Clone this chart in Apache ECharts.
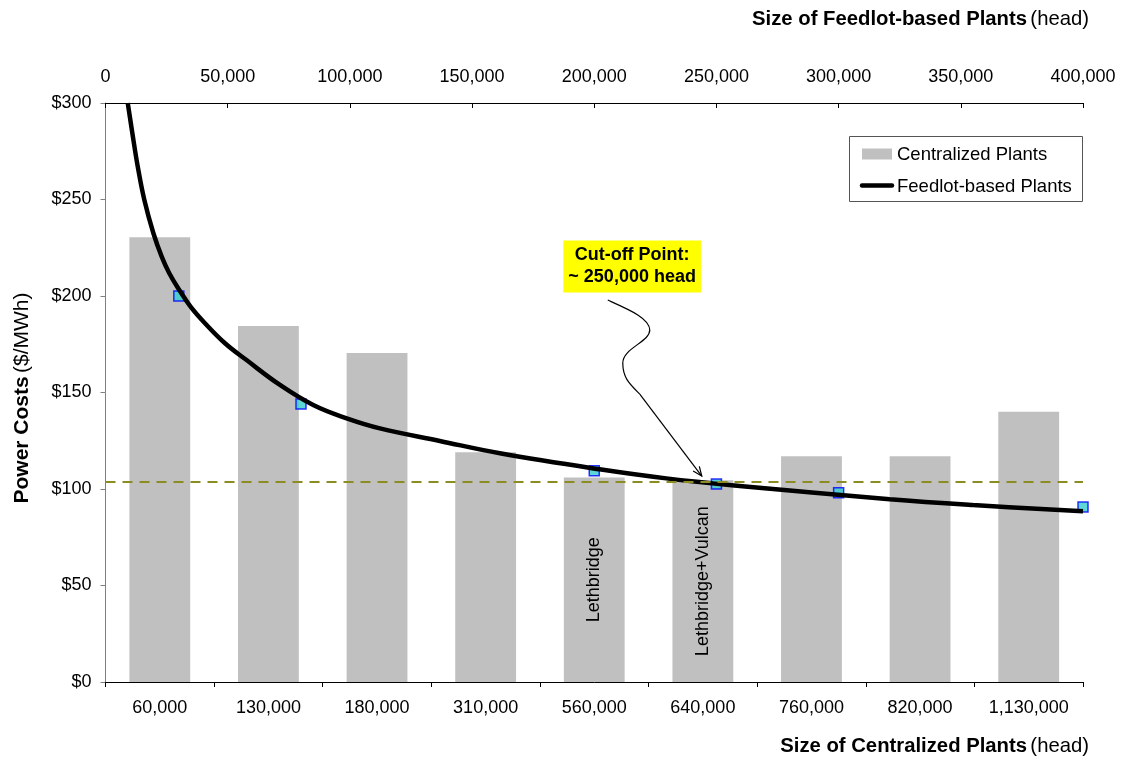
<!DOCTYPE html>
<html>
<head>
<meta charset="utf-8">
<script src="https://cdn.jsdelivr.net/npm/echarts@6/dist/echarts.min.js"></script>
<style>
html,body{margin:0;padding:0;background:#fff;}
#chart{width:1122px;height:761px;}
</style>
</head>
<body>
<div id="chart"></div>
<script>
// ---- data ----
const categories = ['60,000','130,000','180,000','310,000','560,000','640,000','760,000','820,000','1,130,000'];
const centralizedCosts = [230.5,184.5,170.5,119,106,104.5,117,117,140];
const barNotes = ['','','','','Lethbridge','Lethbridge+Vulcan','','',''];
const feedlotSizes = [30000,80000,200000,250000,300000,400000];
const feedlotCosts = [200,144,109.5,102.6,98,90.7];
const trendSizes = [9100,11000,13200,15900,19600,23000,26100,30200,34800,40700,48900,57700,71400,85000,98700,112300,136800,161400,202200,229500,259500,320900,355000,400000];
const trendCosts = [300,284.3,267,249.7,232.5,220.4,211.8,203.1,194.5,185.9,175.5,166.8,153.9,143.5,136.6,131.4,124.9,118.5,110.2,105.5,101.6,94.7,91.7,88.5];
const cutoffCost = 104;
const cutoffArrowTip = [244000, 106.7];
const cutoffLabelAt = [215500, 215.3];
const legendNames = ['Centralized Plants', 'Feedlot-based Plants'];

const FONT = "'Liberation Sans', Arial, sans-serif";
const fmt = v => String(v).replace(/\B(?=(\d{3})+(?!\d))/g, ',');

const chart = echarts.init(document.getElementById('chart'));

const barData = centralizedCosts.map((v, i) => barNotes[i] ? {
  value: v,
  label: {show: true, formatter: barNotes[i]}
} : v);

const titleRich = {
  b: {fontSize: 20.3, fontWeight: 'bold', fontFamily: FONT, fill: '#000'},
  n: {fontSize: 20.3, fontFamily: FONT, fill: '#000'}
};
const yTitleRich = {
  b: {fontSize: 21, fontWeight: 'bold', fontFamily: FONT, fill: '#000'},
  n: {fontSize: 21, fontFamily: FONT, fill: '#000'}
};

const option = {
  animation: false,
  backgroundColor: '#fff',
  textStyle: {fontFamily: FONT},
  grid: {left: 105.5, right: 39, top: 103, bottom: 79, containLabel: false},
  xAxis: [
    {
      type: 'category',
      position: 'bottom',
      data: categories,
      boundaryGap: true,
      axisLine: {lineStyle: {color: '#000', width: 1}},
      axisTick: {show: true, length: 5, inside: false, lineStyle: {color: '#000'}},
      axisLabel: {fontSize: 18, color: '#000', margin: 17, fontFamily: FONT, interval: 0},
      splitLine: {show: false}
    },
    {
      type: 'value',
      position: 'top',
      min: 0, max: 400000, interval: 50000,
      axisLine: {show: true, lineStyle: {color: '#000', width: 1}},
      axisTick: {show: true, inside: true, length: 5, lineStyle: {color: '#000'}},
      axisLabel: {fontSize: 18, color: '#000', margin: 17, fontFamily: FONT,
        formatter: v => fmt(v)},
      splitLine: {show: false}
    }
  ],
  yAxis: [{
    type: 'value',
    min: 0, max: 300, interval: 50,
    axisLine: {show: true, lineStyle: {color: '#808080', width: 1}},
    axisTick: {show: true, length: 5, lineStyle: {color: '#808080'}},
    axisLabel: {fontSize: 18, color: '#000', margin: 14, fontFamily: FONT, formatter: v => '$' + v},
    splitLine: {show: false}
  }],
  series: [
    {
      name: legendNames[0],
      type: 'bar',
      xAxisIndex: 0, yAxisIndex: 0,
      barWidth: '56%',
      itemStyle: {color: '#C0C0C0'},
      data: barData,
      label: {show: false, position: 'inside', rotate: 90, fontSize: 18, color: '#000', fontFamily: FONT},
      markLine: {
        silent: true,
        symbol: ['none','none'],
        label: {show: false},
        lineStyle: {color: '#8C8C22', width: 2, type: [10, 7]},
        data: [{yAxis: cutoffCost}]
      },
      z: 1
    },
    {
      name: 'Feedlot points',
      type: 'scatter',
      xAxisIndex: 1, yAxisIndex: 0,
      symbol: 'rect',
      symbolSize: 10,
      itemStyle: {color: '#33CCCC', borderColor: '#0000FF', borderWidth: 1.5},
      data: feedlotSizes.map((s, i) => [s, feedlotCosts[i]]),
      z: 2
    },
    {
      name: legendNames[1],
      type: 'line',
      xAxisIndex: 1, yAxisIndex: 0,
      smooth: 0.4,
      symbol: 'none',
      showSymbol: false,
      lineStyle: {color: '#000', width: 4.5},
      itemStyle: {color: '#000'},
      data: trendSizes.map((s, i) => [s, trendCosts[i]]),
      z: 3
    }
  ],
  graphic: [
    {
      type: 'text', id: 'topTitle', right: 1122 - 1089, top: 9,
      style: {text: '{b|Size of Feedlot-based Plants} {n|(head)}', rich: titleRich}
    },
    {
      type: 'text', id: 'bottomTitle', right: 1122 - 1089, top: 736,
      style: {text: '{b|Size of Centralized Plants} {n|(head)}', rich: titleRich}
    },
    {
      type: 'text', id: 'yTitle', x: 22, y: 398, rotation: Math.PI / 2,
      style: {
        text: '{b|Power Costs} {n|($/MWh)}',
        align: 'center', verticalAlign: 'middle',
        rich: yTitleRich
      }
    },
    {
      type: 'group', id: 'legendBox', left: 849, top: 136, z: 100,
      children: [
        {type: 'rect', shape: {x: 0.5, y: 0.5, width: 233, height: 65},
          style: {fill: '#fff', stroke: '#555', lineWidth: 1}},
        {type: 'rect', shape: {x: 13, y: 12.5, width: 30, height: 11},
          style: {fill: '#C0C0C0'}},
        {type: 'text', x: 48, y: 18.5,
          style: {text: legendNames[0], fontSize: 18.5, fontFamily: FONT, fill: '#000', verticalAlign: 'middle'}},
        {type: 'line', shape: {x1: 13, y1: 49.5, x2: 43, y2: 49.5},
          style: {stroke: '#000', lineWidth: 4.5, lineCap: 'round'}},
        {type: 'text', x: 48, y: 50.5,
          style: {text: legendNames[1], fontSize: 18.5, fontFamily: FONT, fill: '#000', verticalAlign: 'middle'}}
      ]
    }
  ]
};

chart.setOption(option);

// annotation positioned from data coordinates
const tip = chart.convertToPixel({xAxisIndex: 1, yAxisIndex: 0}, cutoffArrowTip);
const lab = chart.convertToPixel({xAxisIndex: 1, yAxisIndex: 0}, cutoffLabelAt);
const tx = tip[0], ty = tip[1];
const Q = (dx, dy) => [tx + dx, ty + dy];
function bez(id, p0, c1, c2, p1) {
  return {
    type: 'bezierCurve', id: id, z: 50,
    shape: {x1: p0[0], y1: p0[1], cpx1: c1[0], cpy1: c1[1], cpx2: c2[0], cpy2: c2[1], x2: p1[0], y2: p1[1]},
    style: {stroke: '#000', lineWidth: 1.2, fill: null}
  };
}
const ang = Math.atan2(82, 62);
const hl = 10, ha = 0.4;
const h1 = [tx - hl * Math.cos(ang - ha), ty - hl * Math.sin(ang - ha)];
const h2 = [tx - hl * Math.cos(ang + ha), ty - hl * Math.sin(ang + ha)];

chart.setOption({
  graphic: [
    bez('arrowSeg1', Q(-94,-176), Q(-74,-167), Q(-52,-158), Q(-52,-146)),
    bez('arrowSeg2', Q(-52,-146), Q(-52,-134), Q(-79,-128), Q(-79,-113)),
    bez('arrowSeg3', Q(-79,-113), Q(-79,-98), Q(-72,-92), Q(-62,-82)),
    {
      type: 'line', id: 'arrowSeg4', z: 50,
      shape: {x1: tx - 62, y1: ty - 82, x2: tx, y2: ty},
      style: {stroke: '#000', lineWidth: 1.2}
    },
    {
      type: 'polyline', id: 'arrowHead', z: 50,
      shape: {points: [h1, [tx, ty], h2]},
      style: {stroke: '#000', lineWidth: 1.2, fill: null}
    },
    {
      type: 'text', id: 'cutoffBox', z: 60,
      x: lab[0], y: lab[1],
      style: {
        text: 'Cut-off Point:\n~ 250,000 head',
        align: 'center', verticalAlign: 'middle',
        fontSize: 18, fontWeight: 'bold', fontFamily: FONT, fill: '#000',
        lineHeight: 22,
        backgroundColor: '#FFFF00',
        padding: [4, 5, 4, 5]
      }
    }
  ]
});
</script>
</body>
</html>
